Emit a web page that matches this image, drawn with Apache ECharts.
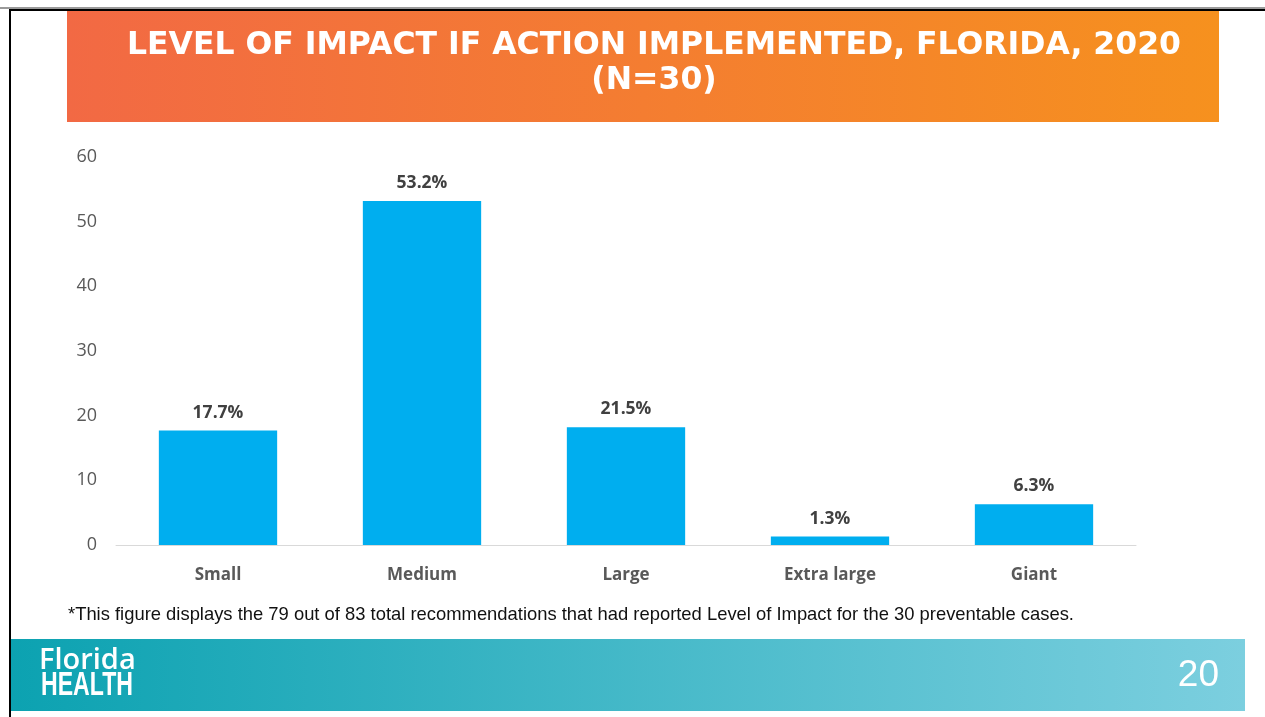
<!DOCTYPE html>
<html>
<head>
<meta charset="utf-8">
<script src="https://cdn.jsdelivr.net/npm/echarts@6/dist/echarts.min.js"></script>
<style>
  html, body { margin: 0; padding: 0; background: #fff; }
  #chart { width: 1265px; height: 717px; }
</style>
</head>
<body>
<div id="chart"></div>
<script>
const categories = ['Small', 'Medium', 'Large', 'Extra large', 'Giant']
// bar heights as drawn on the slide
const values = [17.7, 53.2, 18.2, 1.3, 6.3]
// labels printed above the bars
const valueLabels = ['17.7%', '53.2%', '21.5%', '1.3%', '6.3%']
const yTicks = { min: 0, max: 60, interval: 10 }

const titleText = 'LEVEL OF IMPACT IF ACTION IMPLEMENTED, FLORIDA, 2020\n(N=30)'
const footnote = '*This figure displays the 79 out of 83 total recommendations that had reported Level of Impact for the 30 preventable cases.'
const pageNumber = '20'

const chart = echarts.init(document.getElementById('chart'), null, { renderer: 'canvas' })

const option = {
  backgroundColor: '#fff',
  animation: false,
  graphic: [
    // slide frame
    { type: 'rect', shape: { x: 0, y: 7, width: 1265, height: 2 }, style: { fill: '#9a9a9a' } },
    { type: 'rect', shape: { x: 9, y: 9, width: 1256, height: 2 }, style: { fill: '#000' } },
    { type: 'rect', shape: { x: 9, y: 9, width: 2, height: 708 }, style: { fill: '#000' } },
    // title banner
    {
      type: 'rect',
      shape: { x: 67, y: 11, width: 1152, height: 111 },
      style: {
        fill: new echarts.graphic.LinearGradient(0, 0, 1, 0, [
          { offset: 0, color: '#F26944' },
          { offset: 1, color: '#F6911E' }
        ])
      }
    },
    {
      type: 'text',
      x: 654, y: 63,
      style: {
        text: titleText,
        fill: '#fff',
        font: 'bold 31.5px "DejaVu Sans", sans-serif',
        lineHeight: 35,
        align: 'center',
        verticalAlign: 'middle'
      }
    },
    // footnote
    {
      type: 'text',
      x: 68, y: 615,
      style: {
        text: footnote,
        fill: '#111',
        font: '18.4px "Liberation Sans", Arial, sans-serif',
        verticalAlign: 'middle'
      }
    },
    // footer band
    {
      type: 'rect',
      shape: { x: 11, y: 639, width: 1234, height: 72 },
      style: {
        fill: new echarts.graphic.LinearGradient(0, 0, 1, 0, [
          { offset: 0, color: '#0CA2B1' },
          { offset: 1, color: '#7CCFDF' }
        ])
      }
    },
    {
      type: 'text',
      x: 39, y: 661,
      style: {
        text: 'Florida',
        fill: '#fff',
        font: '600 29px "Open Sans", sans-serif',
        verticalAlign: 'middle'
      }
    },
    {
      type: 'text',
      x: 41, y: 686,
      scaleX: 0.7,
      style: {
        text: 'HEALTH',
        fill: '#fff',
        font: 'bold 33px "Liberation Sans", Arial, sans-serif',
        verticalAlign: 'middle'
      }
    },
    {
      type: 'text',
      x: 1219, y: 676,
      style: {
        text: pageNumber,
        fill: '#fff',
        font: '37px "Liberation Sans", Arial, sans-serif',
        align: 'right',
        verticalAlign: 'middle'
      }
    }
  ],
  grid: {
    left: 116,
    right: 129,
    top: 157,
    bottom: 172
  },
  xAxis: {
    type: 'category',
    data: categories,
    axisLine: { lineStyle: { color: '#d9d9d9', width: 1 } },
    axisTick: { show: false },
    axisLabel: {
      color: '#595959',
      fontSize: 17,
      fontWeight: 'bold',
      fontFamily: 'Open Sans, sans-serif',
      margin: 22
    }
  },
  yAxis: {
    type: 'value',
    min: yTicks.min,
    max: yTicks.max,
    interval: yTicks.interval,
    axisLine: { show: false },
    axisTick: { show: false },
    splitLine: { show: false },
    axisLabel: {
      color: '#595959',
      fontSize: 18,
      fontFamily: 'Open Sans, sans-serif',
      margin: 19
    }
  },
  series: [
    {
      type: 'bar',
      data: values,
      barWidth: '58%',
      itemStyle: { color: '#00AEEF' },
      label: {
        show: true,
        position: 'top',
        distance: 9,
        color: '#404040',
        fontSize: 17.5,
        fontWeight: 'bold',
        fontFamily: 'Open Sans, sans-serif',
        formatter: p => valueLabels[p.dataIndex]
      }
    }
  ]
}

chart.setOption(option)
</script>
</body>
</html>
